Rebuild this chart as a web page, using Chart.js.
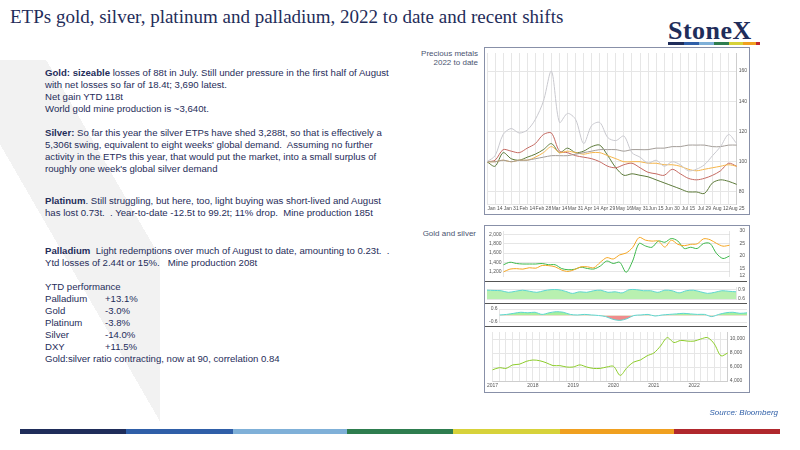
<!DOCTYPE html>
<html><head><meta charset="utf-8">
<script src="https://cdn.jsdelivr.net/npm/chart.js@4/dist/chart.umd.min.js"></script>
<style>
body{margin:0;width:800px;height:450px;position:relative;background:#fff;font-family:"Liberation Sans",Arial,sans-serif;color:#1f2d5a;overflow:hidden}
.abs{position:absolute}
#title{left:10px;top:6px;font-family:"Liberation Serif",serif;font-size:19px;color:#1f2d5a}
#logo{left:668px;top:16px;font-family:"Liberation Serif",serif;font-weight:bold;font-size:26px;color:#1f2d5a;letter-spacing:0.5px}
#txt{left:45px;top:67px;width:350px;font-size:9.6px;line-height:12px}
#txt p{margin:0}
.lbl{font-size:8px;color:#4a5470;text-align:right}
.box{border:1px solid #8890a8;background:#fff}
</style></head><body>
<div class="abs" style="left:0;top:60px;width:160px;height:380px;background:linear-gradient(60deg,transparent 45%,#f2f2f2 45%,#f2f2f2 70%,transparent 70%)"></div>
<div class="abs" id="title">ETPs gold, silver, platinum and palladium, 2022 to date and recent shifts</div>
<div class="abs" id="logo">StoneX</div>
<div class="abs" style="left:668px;top:42px;width:92px;height:3px;background:linear-gradient(90deg,#1f2d5a 0 17%,#2f5fa8 17% 34%,#7fb0d8 34% 50%,#2e7d4f 50% 66%,#d7d23a 66% 82%,#f0a020 82% 96%,#c0282d 96%)"></div>
<div class="abs" id="txt">
<p style="margin-bottom:12px"><b>Gold: sizeable</b> losses of 88t in July. Still under pressure in the first half of August with net losses so far of 18.4t; 3,690 latest.<br>Net gain YTD 118t<br>World gold mine production is ~3,640t.</p>
<p style="margin-bottom:20px"><b>Silver:</b> So far this year the silver ETPs have shed 3,288t, so that is effectively a 5,306t swing, equivalent to eight weeks' global demand.&nbsp; Assuming no further activity in the ETPs this year, that would put the market, into a small surplus of roughly one week's global silver demand</p>
<p style="margin-bottom:26px"><b>Platinum</b>. Still struggling, but here, too, light buying was short-lived and August has lost 0.73t.&nbsp; . Year-to-date -12.5t to 99.2t; 11% drop.&nbsp; Mine production 185t</p>
<p style="margin-bottom:12px"><b>Palladium</b>&nbsp; Light redemptions over much of August to date, amounting to 0.23t.&nbsp; .&nbsp; Ytd losses of 2.44t or 15%.&nbsp;&nbsp; Mine production 208t</p>
<div>YTD performance</div>
<div id="perf"></div>
<div>Gold:silver ratio contracting, now at 90, correlation 0.84</div>
</div>
<div class="abs lbl" style="left:420px;top:49px;width:58px">Precious metals 2022 to date</div>
<div class="abs lbl" style="left:420px;top:229px;width:56px">Gold and silver</div>
<div class="abs box" style="left:484px;top:47px;width:264px;height:166px"><canvas id="top"></canvas></div>
<div class="abs box" style="left:484px;top:225px;width:264px;height:166px"></div>
<div class="abs" style="left:485px;top:226px;width:262px;height:55px"><canvas id="gs"></canvas></div>
<div class="abs" style="left:485px;top:281px;width:262px;height:22px;border-top:1px solid #555"><canvas id="c1"></canvas></div>
<div class="abs" style="left:485px;top:303px;width:262px;height:23px;border-top:1px solid #555"><canvas id="c2"></canvas></div>
<div class="abs" style="left:485px;top:326px;width:262px;height:64px;border-top:1px solid #555"><canvas id="cu"></canvas></div>
<div class="abs" style="right:22px;top:408px;font-size:8px;font-style:italic;color:#2f5fa8">Source: Bloomberg</div>
<div class="abs" style="left:20px;top:429px;width:760px;height:5px;background:linear-gradient(90deg,#1f2d5a 0 14%,#2f5fa8 14% 28%,#7fb0d8 28% 43%,#2e7d4f 43% 57%,#d7d23a 57% 71%,#f0a020 71% 86%,#b0282d 86%)"></div>
<script>
// YTD table
var perfNames = ["Palladium","Gold","Platinum","Silver","DXY"];
var perfValues = ["+13.1%","-3.0%","-3.8%","-14.0%","+11.5%"];
var perfHtml = "";
for (var i = 0; i < perfNames.length; i++) {
    perfHtml += '<div><span style="display:inline-block;width:60px">' + perfNames[i] + '</span>' + perfValues[i] + '</div>';
}
document.getElementById('perf').innerHTML = perfHtml;

// precious metals 2022, weekly, indexed to 100
var weeks = ["Jan 07","Jan 14","Jan 21","Jan 31","Feb 07","Feb 14","Feb 21","Feb 28","Mar 07","Mar 14","Mar 21","Mar 31","Apr 07","Apr 14","Apr 21","Apr 29","May 06","May 16","May 23","May 31","Jun 07","Jun 15","Jun 22","Jun 30","Jul 07","Jul 15","Jul 22","Jul 29","Aug 05","Aug 12","Aug 19","Aug 25"];
var topTicks = [80,100,120,140,160];
var pd   = [100,104,118,122,119,121,128,140,160,126,132,128,112,124,126,116,114,117,106,103,99,101,97,100,98,94,95,98,104,110,118,112];
var dxy  = [100,100,101,100,101,101,102,103,104,104,104,105,106,107,108,108,108,107,108,108,108,109,109,110,110,111,111,111,110,110,111,111];
var gold = [100,100,101,100,101,101,103,106,110,106,107,106,105,106,106,104,102,100,100,100,99,99,98,98,97,95,94,95,96,97,98,97];
var pt   = [100,101,108,107,106,109,112,118,119,107,106,104,103,102,100,97,96,98,99,96,93,92,91,95,92,89,88,89,91,94,99,97];
var ag   = [100,97,106,102,101,103,105,108,112,106,109,106,107,110,111,104,96,91,92,91,90,88,86,84,82,80,80,79,86,88,87,85];

// gold and silver, bi-monthly 2017 - 2022
var months = ["2017","","","","","","2018","","","","","","2019","","","","","","2020","","","","","","2021","","","","","","2022","","","","",""];
var goldTicks = [1200,1400,1600,1800,2000];
var goldPx = [1190,1250,1260,1250,1280,1270,1330,1325,1300,1230,1200,1240,1300,1300,1280,1400,1500,1470,1560,1600,1720,1940,1880,1860,1860,1730,1880,1790,1760,1790,1800,1910,1890,1810,1750,1770];
var silverPx = [16.5,17.5,17,16.8,16.8,16.8,17,16.5,16.5,15,14.5,14.7,15.5,15,14.8,16,18,17,17.5,13.5,18,25,24,23.5,26,25.5,27,26,23,23.5,23,25,25,21,19,20];
var corrGS = [0.88,0.87,0.86,0.8,0.84,0.88,0.84,0.8,0.86,0.9,0.9,0.84,0.76,0.82,0.8,0.86,0.88,0.8,0.82,0.78,0.9,0.9,0.86,0.86,0.8,0.88,0.86,0.78,0.86,0.88,0.82,0.76,0.8,0.86,0.84,0.82];
var corrCu = [0.05,0.1,0.2,0.3,0.25,0.3,0.1,0.25,0.35,0.3,0.1,0.05,0.1,0.05,0.0,-0.1,-0.35,-0.45,-0.3,0.0,0.05,0.1,-0.05,0.05,0.1,0.15,0.2,0.15,0.1,0.1,-0.1,0.1,0.25,0.3,0.2,0.25];
var copper = [5600,5900,5800,6300,6400,6800,7000,6900,6600,6200,6200,6000,6000,6300,6000,5800,5800,6000,6100,4800,5900,6700,7000,7600,8000,9000,10200,9500,9800,9700,9700,10000,10200,9300,7600,8000];

var grid = {color:"#e6e6e6", drawTicks:false};
var tick = {font:{size:5}, color:"#555", padding:2};
function fixed(list) {
    return function(axis) { axis.ticks = list.map(function(v){return {value:v};}); };
}
function base() {
    return {responsive:true, maintainAspectRatio:false, animation:false,
        plugins:{legend:{display:false}, tooltip:{enabled:false}},
        elements:{point:{radius:0}, line:{borderWidth:1, tension:0.3}},
        layout:{padding:{left:2, right:0, top:2, bottom:0}}};
}

var o = base();
o.scales = {
    x:{grid:grid, ticks:Object.assign({}, tick, {maxRotation:0, autoSkip:false,
        callback:function(v,i){return i % 2 == 1 ? weeks[i] : "";}})},
    y:{position:"right", min:72, max:172, grid:grid, afterBuildTicks:fixed(topTicks), ticks:tick}
};
new Chart(document.getElementById('top'), {type:'line', data:{labels:weeks, datasets:[
    {data:pd, borderColor:"#c9c9cf"},
    {data:dxy, borderColor:"#a39d98"},
    {data:gold, borderColor:"#f5b54a"},
    {data:pt, borderColor:"#c56a62"},
    {data:ag, borderColor:"#5d7a3a"}
]}, options:o});

var g = base();
g.scales = {
    x:{display:false},
    y:{position:"left", min:1100, max:2080, grid:grid, afterBuildTicks:fixed(goldTicks), ticks:tick},
    y1:{position:"right", min:12, max:30, grid:{display:false}, ticks:Object.assign({}, tick, {stepSize:5})}
};
new Chart(document.getElementById('gs'), {type:'line', data:{labels:months, datasets:[
    {data:goldPx, borderColor:"#f5a623", yAxisID:"y"},
    {data:silverPx, borderColor:"#3cb84a", yAxisID:"y1"}
]}, options:g});

var c = base();
c.scales = {x:{display:false}, y:{position:"right", min:0.55, max:1, grid:grid, ticks:Object.assign({}, tick, {stepSize:0.1})}};
new Chart(document.getElementById('c1'), {type:'line', data:{labels:months, datasets:[
    {data:corrGS, borderColor:"#5fd6d0", backgroundColor:"#b8f0b0", fill:"start"}
]}, options:c});

var c2 = base();
c2.scales = {x:{display:false}, y:{position:"left", min:-0.6, max:0.6, grid:grid, ticks:Object.assign({}, tick, {stepSize:0.5})}};
new Chart(document.getElementById('c2'), {type:'line', data:{labels:months, datasets:[
    {data:corrCu, borderColor:"#5fd6d0", fill:{target:{value:0}, above:"#a8ef9c", below:"#f08c8c"}}
]}, options:c2});

var cu = base();
cu.scales = {
    x:{grid:grid, ticks:Object.assign({}, tick, {maxRotation:0, autoSkip:false})},
    y:{position:"right", min:4000, max:11000, grid:grid, ticks:Object.assign({}, tick, {stepSize:1000})}
};
new Chart(document.getElementById('cu'), {type:'line', data:{labels:months, datasets:[
    {data:copper, borderColor:"#8ccc2a"}
]}, options:cu});
</script>
</body></html>
